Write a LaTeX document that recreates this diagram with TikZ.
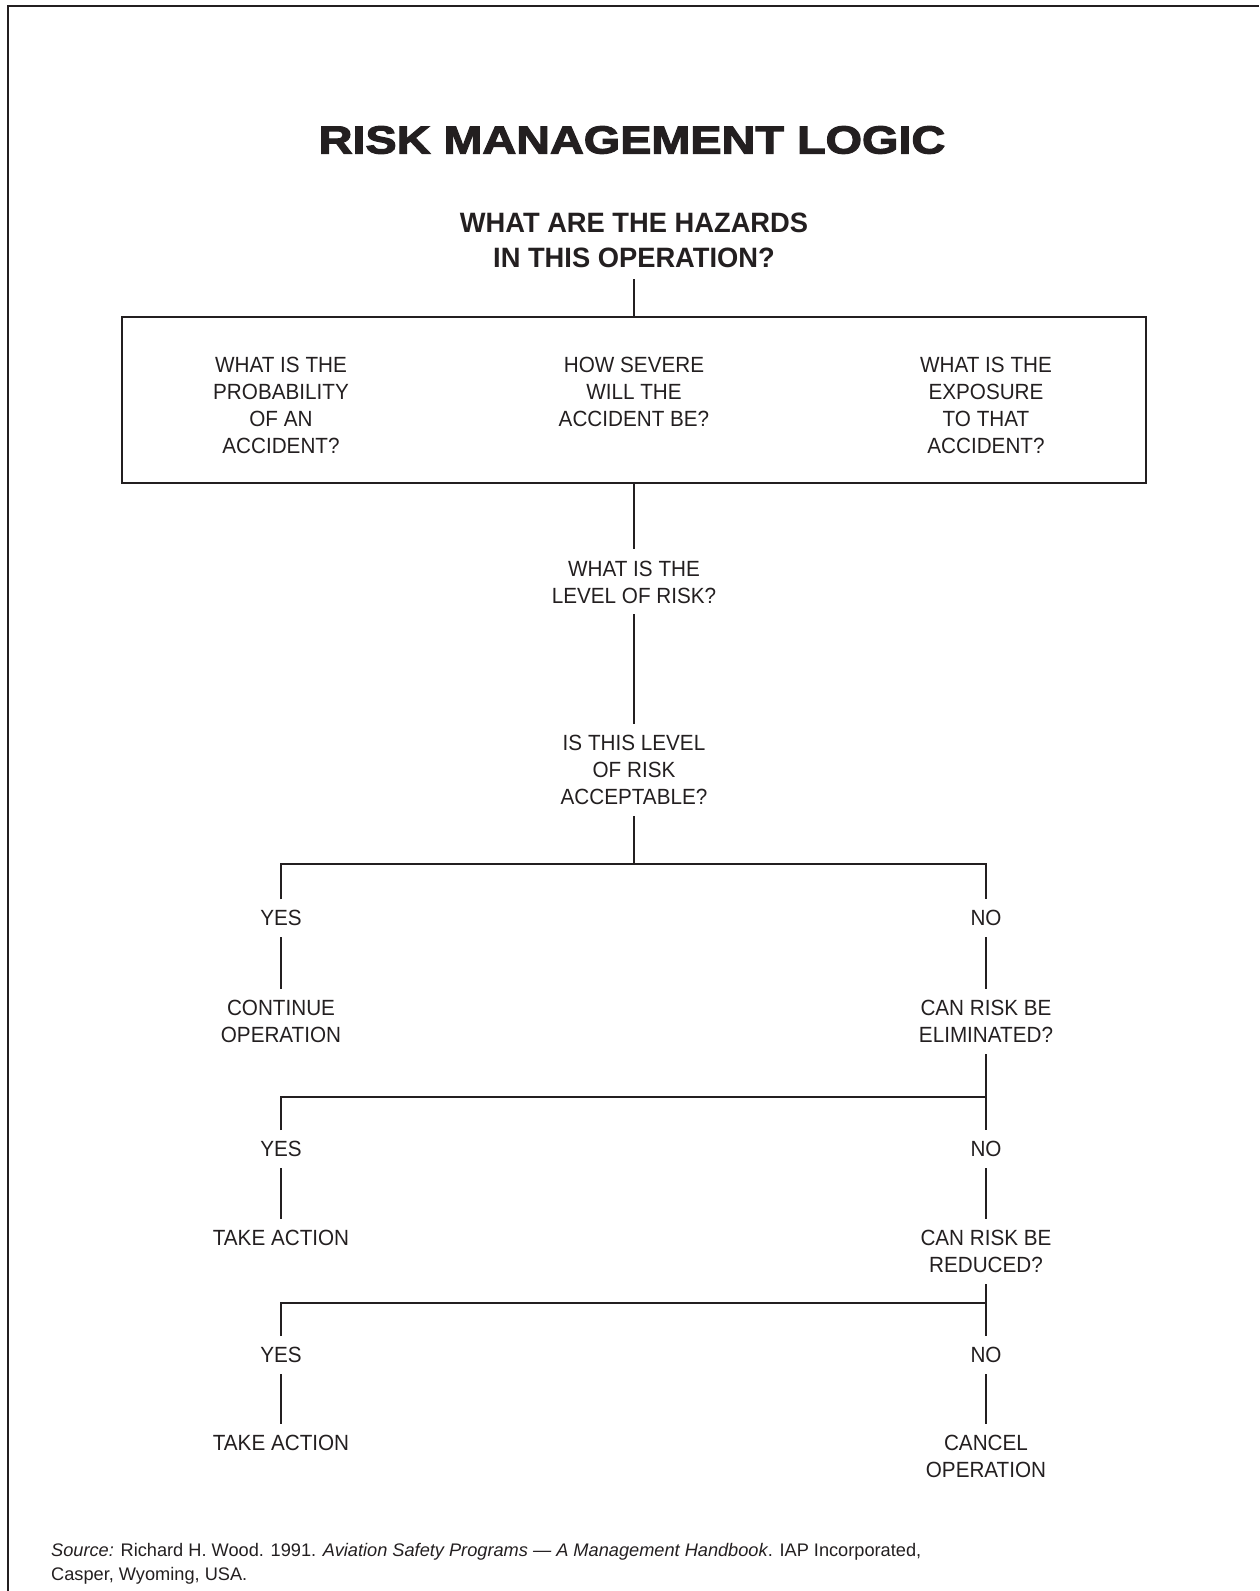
\documentclass[tikz,border=0pt]{standalone}
\usepackage{fontspec}
\setmainfont{Liberation Sans}
\newfontfamily\condfont{Liberation Sans}[FakeStretch=0.94]
\newfontfamily\headfont{Liberation Sans Bold}[FakeStretch=1.2,FakeBold=3]
\newfontfamily\subfont{Liberation Sans Bold}[FakeStretch=0.975]
\usetikzlibrary{positioning}
\definecolor{ink}{HTML}{231F20}
\tikzset{
stage/.style={align=center,inner xsep=2pt,inner ysep=11pt,text=ink,font=\condfont\fontsize{22}{27}\selectfont},
panel/.style={draw=ink,line width=2.2pt,minimum width=1024pt,minimum height=166pt},
heading/.style={inner sep=0pt,text=ink,font=\headfont\fontsize{39}{44}\selectfont},
subheading/.style={align=center,inner xsep=0pt,inner ysep=11pt,text=ink,font=\subfont\fontsize{28}{35}\selectfont},
source/.style={align=left,anchor=north west,inner sep=0pt,text=ink,font=\fontsize{18.2}{24}\selectfont},
link/.style={draw=ink,line width=1.8pt}
}
\begin{document}
\begin{tikzpicture}[x=1pt,y=-1pt]
\useasboundingbox(0,0)rectangle(1259,1591);
\draw[link,line width=2pt](8,1591)|-(1259,5.5);
\node[heading](title)at(632,140){RISK MANAGEMENT LOGIC};
\node[subheading,below=48pt of title,xshift=2pt](haz){WHAT ARE THE HAZARDS\\IN THIS OPERATION?};
\node[panel,below=37pt of haz](box){};
\node[stage,below=30pt of box.north,xshift=-353pt](prob){WHAT IS THE\\PROBABILITY\\OF AN\\ACCIDENT?};
\node[stage,below=30pt of box.north](sev){HOW SEVERE\\WILL THE\\ACCIDENT BE?};
\node[stage,below=30pt of box.north,xshift=352pt](expo){WHAT IS THE\\EXPOSURE\\TO THAT\\ACCIDENT?};
\node[stage,below=65pt of box](level){WHAT IS THE\\LEVEL OF RISK?};
\node[stage,below=110pt of level](accept){IS THIS LEVEL\\OF RISK\\ACCEPTABLE?};
\coordinate[below=48pt of accept](j1);
\node[stage,below=35pt of j1,xshift=-353pt](yes1){YES};
\node[stage,below=35pt of j1,xshift=352pt](no1){NO};
\node[stage,below=52pt of yes1](cont){CONTINUE\\OPERATION};
\node[stage,below=52pt of no1](elim){CAN RISK BE\\ELIMINATED?};
\coordinate[below=43pt of elim](j2);
\node[stage,below=33pt of j2,xshift=-705pt](yes2){YES};
\node[stage,below=33pt of j2](no2){NO};
\node[stage,below=51pt of yes2](act1){TAKE ACTION};
\node[stage,below=51pt of no2](red){CAN RISK BE\\REDUCED?};
\coordinate[below=19pt of red](j3);
\node[stage,below=33pt of j3,xshift=-705pt](yes3){YES};
\node[stage,below=33pt of j3](no3){NO};
\node[stage,below=50pt of yes3](act2){TAKE ACTION};
\node[stage,below=50pt of no3](cancel){CANCEL\\OPERATION};
\node[source](src)at(51,1543){\textit{Source:} Richard H. Wood. 1991. \textit{Aviation Safety Programs — A Management Handbook}. IAP Incorporated,\\Casper, Wyoming, USA.};
\draw[link](haz)--(box);\draw[link](box)--(level);\draw[link](level)--(accept);\draw[link](accept)--(j1);
\draw[link](yes1.north)|-(j1)-|(no1.north);
\draw[link](yes1)--(cont);\draw[link](no1)--(elim);
\draw[link](elim)--(no2);\draw[link](yes2.north)|-(j2);
\draw[link](yes2)--(act1);\draw[link](no2)--(red);
\draw[link](red)--(no3);\draw[link](yes3.north)|-(j3);
\draw[link](yes3)--(act2);\draw[link](no3)--(cancel);
\end{tikzpicture}
\end{document}
